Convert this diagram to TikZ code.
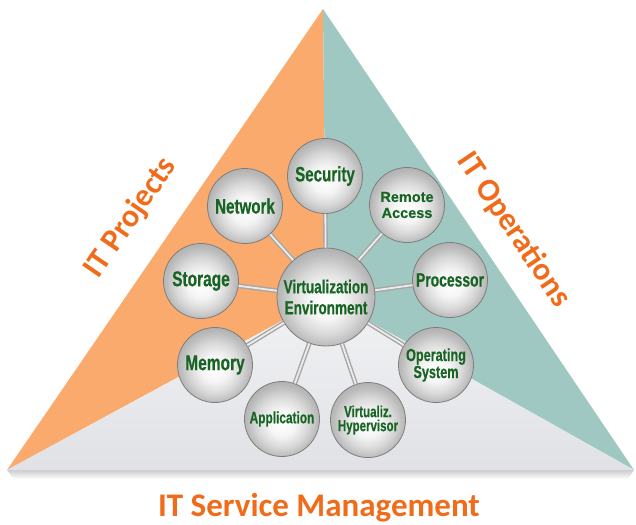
\documentclass[tikz,border=0pt]{standalone}
\usepackage{fontspec}
\setmainfont{Carlito}
\newfontfamily\ballfont[FakeStretch=0.72,FakeBold=0.5]{Liberation Sans}
\newfontfamily\ballwidefont[FakeBold=0.5]{Liberation Sans}

\definecolor{projorange}{RGB}{249,170,108}
\definecolor{opsteal}{RGB}{160,200,194}
\definecolor{svcgray}{RGB}{233,234,238}
\definecolor{labelorange}{RGB}{240,108,26}
\definecolor{balltext}{RGB}{24,100,36}
\definecolor{rimgray}{RGB}{125,125,125}

% sphere look of the balls, edge of the circle at 25bp
\pgfdeclareradialshading{sphere}{\pgfpoint{0bp}{-3bp}}{%
  color(0bp)=(white); color(9bp)=(gray!8); color(17bp)=(gray!30);
  color(23bp)=(gray!52); color(28bp)=(gray!65); color(50bp)=(gray!65)}

\begin{document}
\begin{tikzpicture}[x=1pt,y=-1pt,
  ball/.style={circle, draw=rimgray, line width=0.8pt, shading=sphere,
    text=balltext, align=center, inner sep=0pt, minimum size=75pt},
  bigball/.style={ball, minimum size=98pt},
  rod/.style={draw=gray!70, double=gray!15, double distance=1.8pt, line width=1.4pt},
  sidelabel/.style={text=labelorange, font=\bfseries\fontsize{32}{36}\selectfont}]
\useasboundingbox (0,0) rectangle (636,524);

\coordinate (apex) at (323,9);
\coordinate (bl) at (7,470);
\coordinate (br) at (634,470);
\coordinate (mid) at (326,297);

% soft shadow under the triangle
\shade[top color=gray!40, bottom color=white] (bl) -- (br) -- (628,479) -- (14,479) -- cycle;

% the three parts of the triangle
\fill[projorange] (apex) -- (bl) -- (mid) -- cycle;
\fill[opsteal] (apex) -- (mid) -- (br) -- cycle;
\shade[top color=svcgray!60!white, bottom color=svcgray!92!gray] (bl) -- (mid) -- (br) -- cycle;

% balls
\node[bigball, font=\ballfont\bfseries\fontsize{18.8}{21}\selectfont] (env) at (mid) {Virtualization\\Environment};
\node[ball, font=\ballfont\bfseries\fontsize{21}{22}\selectfont] (sec) at (325,176) {Security};
\node[ball, font=\ballwidefont\bfseries\fontsize{14.5}{16}\selectfont] (ra) at (407,205) {Remote\\Access};
\node[ball, font=\ballfont\bfseries\fontsize{19.3}{20}\selectfont] (proc) at (450,280) {Processor};
\node[ball, font=\ballfont\bfseries\fontsize{17.6}{17}\selectfont] (os) at (436,365) {Operating\\System};
\node[ball, font=\ballfont\bfseries\fontsize{16}{14}\selectfont] (hyp) at (368,420) {Virtualiz.\\Hypervisor};
\node[ball, font=\ballfont\bfseries\fontsize{16.5}{17}\selectfont] (app) at (282,419) {Application};
\node[ball, font=\ballfont\bfseries\fontsize{21.5}{22}\selectfont] (mem) at (215,365) {Memory};
\node[ball, font=\ballfont\bfseries\fontsize{21.5}{22}\selectfont] (sto) at (201,281) {Storage};
\node[ball, font=\ballfont\bfseries\fontsize{21}{22}\selectfont] (net) at (245,206) {Network};

% rods from the centre ball
\foreach \b in {sec,ra,proc,os,hyp,app,mem,sto,net}
  \draw[rod] (env) -- (\b);

% labels
\node[sidelabel, rotate=55.6] (proj) at (131,218) {IT Projects};
\node[sidelabel, rotate=-56] (ops) at (514,230) {IT Operations};
\node[sidelabel, font=\bfseries\fontsize{33}{36}\selectfont, anchor=base] (itsm) at (319,516) {IT Service Management};
\end{tikzpicture}
\end{document}
